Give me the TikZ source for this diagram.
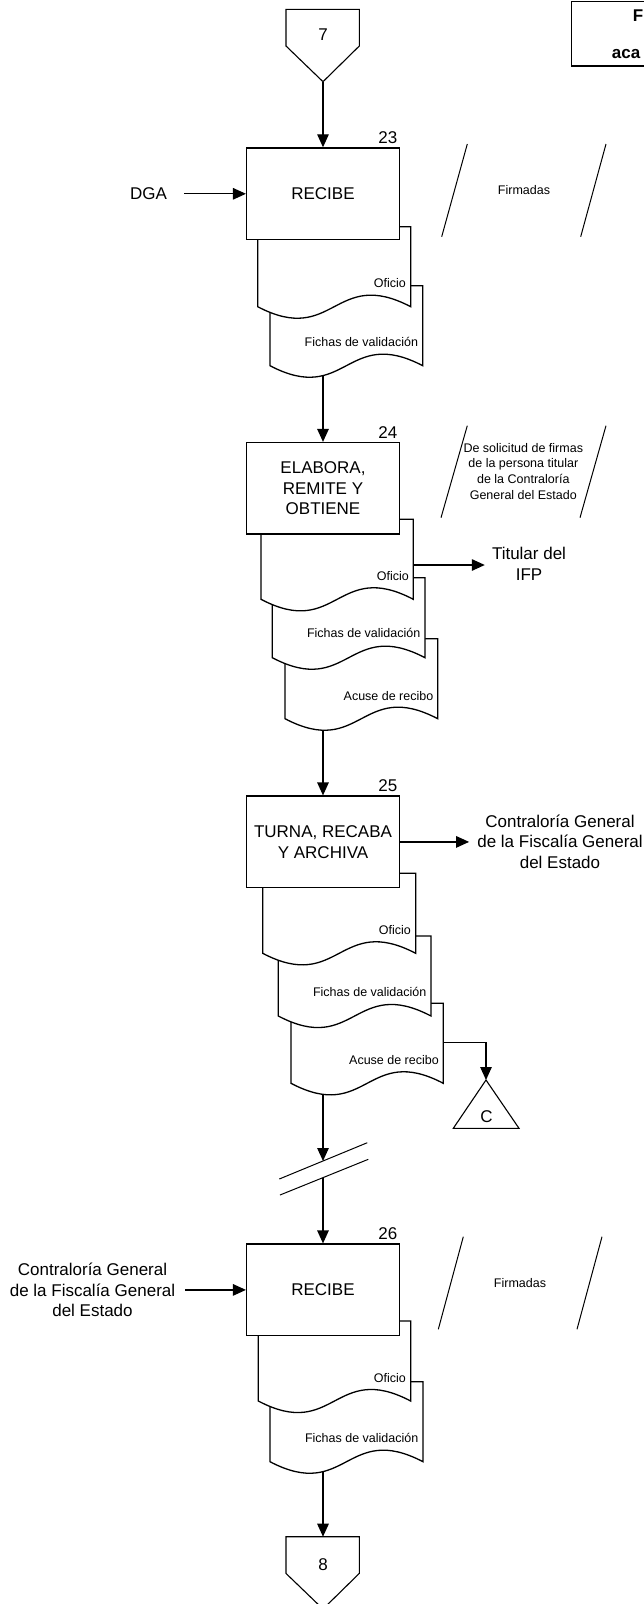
\documentclass[tikz,border=0pt]{standalone}
\usepackage{fontspec}
\setmainfont{Liberation Sans}
\usetikzlibrary{arrows.meta,calc}
\pgfdeclarelayer{background}
\pgfsetlayers{background,main}
\newcommand{\bigf}{\fontsize{17}{20.5}\selectfont}
\newcommand{\smallf}{\fontsize{12.5}{15.7}\selectfont}
\newcommand{\docshape}[3]{%
  \path[docsty] (#1,#2) -- (#3,#2) -- (#3,#2+80)
    .. controls +({-0.5*(#3-#1)},-40) and +({0.5*(#3-#1)},40) .. (#1,#2+80) -- cycle;}
\tikzset{
  box/.style={draw, line width=1.5pt, fill=white, minimum width=152.6pt,
    minimum height=91.5pt, align=center, font=\bigf, inner sep=0pt},
  docsty/.style={draw, line width=1.3pt, fill=white},
  bigtxt/.style={font=\bigf, inner sep=1pt, align=center},
  smalltxt/.style={font=\smallf, inner sep=0pt, align=center},
  doclabel/.style={font=\smallf, inner sep=0pt, anchor=east},
  numlabel/.style={font=\bigf, inner sep=0pt, anchor=base east},
  slant/.style={line width=1pt},
  shapeline/.style={draw, line width=1.1pt, fill=white},
  arr/.style={line width=1.3pt, -{Triangle[length=13pt,width=11.5pt]}},
}
\begin{document}
\begin{tikzpicture}[x=1pt,y=-1pt]
\useasboundingbox (0,0) rectangle (644,1604);
\clip (0,0) rectangle (644,1604);

% title box (cut by the page edge)
\draw[line width=1.5pt] (571.7,1.7) rectangle (670,66);
\node[font=\bfseries\bigf, inner sep=0pt, anchor=base east] (ttl1) at (643.5,21.7) {F};
\node[font=\bfseries\bigf, inner sep=0pt, anchor=base west] (ttl2) at (611.7,58.5) {aca};

% off-page connector 7
\path[shapeline] (286,9.3) -- (359.3,9.3) -- (359.3,46) -- (323,81.7) -- (286,46) -- cycle;
\node[bigtxt] (n7) at (323,35) {7};
\coordinate (c7) at (323,81.7);

% ---------- section 23 ----------
\docshape{270}{285.7}{422.7}
\node[doclabel] (fi23) at (418.2,341.7) {Fichas de validación};
\docshape{257.7}{226.7}{410.7}
\node[doclabel] (of23) at (406,282.7) {Oficio};
\node[box] (b23) at (323,193.8) {RECIBE};
\node[numlabel] (num23) at ($(b23.north east)+(-2.5,-3.5)$) {23};
\node[bigtxt] (dga) at (148.6,193.8) {DGA};
\node[smalltxt] (fir23) at (524,190) {Firmadas};
\draw[slant] (467.3,144) -- (441.7,236.7) (606,144) -- (580.7,236.7);
\coordinate (e23) at (323,371.5);

% ---------- section 24 ----------
\docshape{285}{638.7}{437.7}
\node[doclabel] (ac24) at (433.5,695.7) {Acuse de recibo};
\docshape{272.3}{577.7}{425}
\node[doclabel] (fi24) at (420.5,633.3) {Fichas de validación};
\docshape{261}{519.3}{413.3}
\node[doclabel] (of24) at (409,575.7) {Oficio};
\node[box] (b24) at (323,488.4) {ELABORA,\\REMITE Y\\OBTIENE};
\node[numlabel] (num24) at ($(b24.north east)+(-2.5,-3.5)$) {24};
\node[smalltxt] (par24) at (523.3,471.3) {De solicitud de firmas\\de la persona titular\\de la Contraloría\\General del Estado};
\draw[slant] (467.3,425.7) -- (441,517.7) (606,425.7) -- (580,517.7);
\node[bigtxt] (tit) at (529,564) {Titular del\\IFP};
\coordinate (o24r) at (413.3,565);
\coordinate (e24) at (323,723.7);

% ---------- section 25 ----------
\docshape{291}{1003.3}{443.3}
\node[doclabel] (ac25) at (439,1060) {Acuse de recibo};
\docshape{278.3}{936}{431}
\node[doclabel] (fi25) at (426.5,992.3) {Fichas de validación};
\docshape{262.7}{873.3}{415.7}
\node[doclabel] (of25) at (411,930) {Oficio};
\node[box] (b25) at (323,841.9) {TURNA, RECABA\\Y ARCHIVA};
\node[numlabel] (num25) at ($(b25.north east)+(-2.5,-3.5)$) {25};
\node[bigtxt] (cg25) at (560,841.7) {Contraloría General\\de la Fiscalía General\\del Estado};
\coordinate (a25r) at (443.3,1042.7);
\coordinate (cturn) at (486,1042.7);
\coordinate (e25) at (323,1088.3);

% connector C
\path[shapeline] (486,1080) -- (519,1128.3) -- (453.3,1128.3) -- cycle;
\node[bigtxt] (cC) at (486.5,1116.5) {C};
\coordinate (capex) at (486,1080);

% break mark
\draw[slant] (279.3,1179) -- (367.3,1142.7) (280,1195) -- (368.3,1159.3);
\coordinate (brk1) at (323,1161);
\coordinate (brk2) at (323,1177.7);

% ---------- section 26 ----------
\docshape{270}{1381.7}{423}
\node[doclabel] (fi26) at (418.5,1438.3) {Fichas de validación};
\docshape{258.3}{1321}{410.7}
\node[doclabel] (of26) at (406,1378.3) {Oficio};
\node[box] (b26) at (323,1289.9) {RECIBE};
\node[numlabel] (num26) at ($(b26.north east)+(-2.5,-3.5)$) {26};
\node[bigtxt] (cg26) at (92.5,1290) {Contraloría General\\de la Fiscalía General\\del Estado};
\node[smalltxt] (fir26) at (520,1283.3) {Firmadas};
\draw[slant] (463.3,1236.7) -- (438.3,1329.3) (602,1236.7) -- (577,1329.3);
\coordinate (e26) at (323,1466.5);

% off-page connector 8
\path[shapeline] (286,1536.7) -- (359.3,1536.7) -- (359.3,1573.4) -- (323,1609) -- (286,1573.4) -- cycle;
\node[bigtxt] (n8) at (323,1564.3) {8};
\coordinate (c8) at (323,1536.7);

% ---------- connectors ----------
\begin{pgfonlayer}{background}
\draw[arr] (c7) -- (b23.north);
\draw[arr, shorten <=16pt] (dga.east) -- (b23.west);
\draw[arr] (e23) -- (b24.north);
\draw[arr, shorten >=6pt] (o24r) -- (o24r -| tit.west);
\draw[arr] (e24) -- (b25.north);
\draw[arr, shorten >=7pt] (b25.east) -- (b25.east -| cg25.west);
\draw[arr] (a25r) -- (cturn) -- (capex);
\draw[arr] (e25) -- (brk1);
\draw[arr] (brk2) -- (b26.north);
\draw[arr, shorten <=9pt] (cg26.east |- b26.west) -- (b26.west);
\draw[arr] (e26) -- (c8);
\end{pgfonlayer}
\end{tikzpicture}
\end{document}
